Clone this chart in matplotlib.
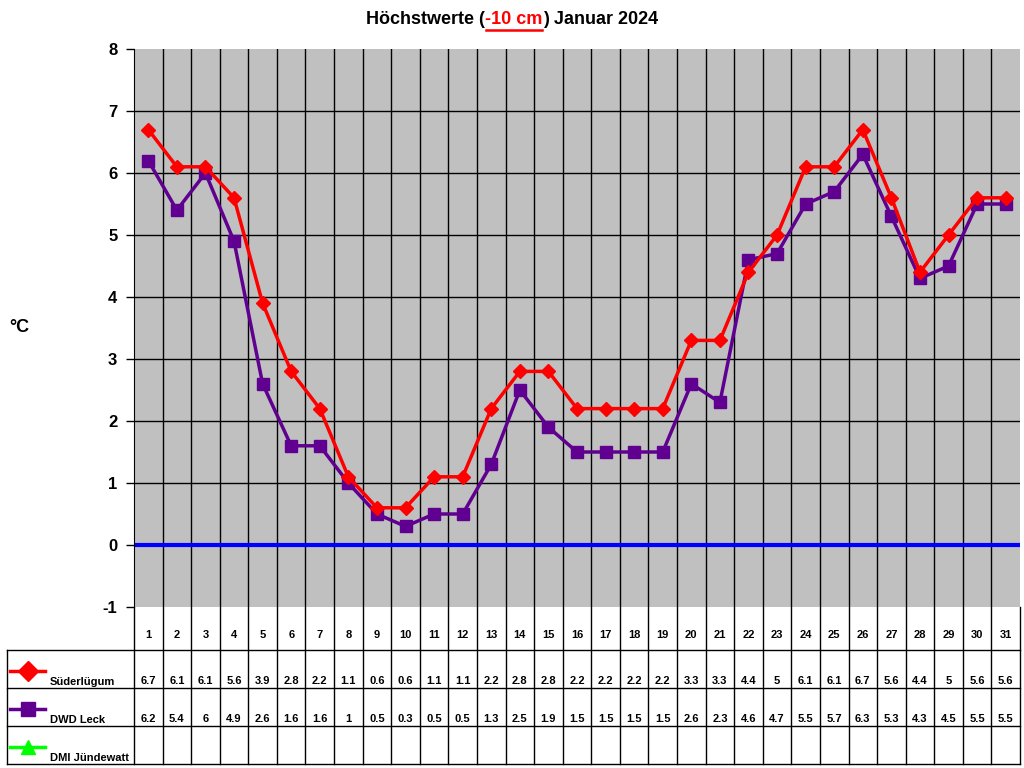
import numpy as np
import matplotlib.pyplot as plt

plt.rcParams['font.family'] = ['Liberation Sans', 'DejaVu Sans']
plt.rcParams['font.weight'] = 'bold'
plt.rcParams['axes.unicode_minus'] = False

days = list(range(1, 32))
suederluegum = [6.7, 6.1, 6.1, 5.6, 3.9, 2.8, 2.2, 1.1, 0.6, 0.6, 1.1, 1.1, 2.2, 2.8, 2.8, 2.2,
                2.2, 2.2, 2.2, 3.3, 3.3, 4.4, 5, 6.1, 6.1, 6.7, 5.6, 4.4, 5, 5.6, 5.6]
dwd_leck = [6.2, 5.4, 6, 4.9, 2.6, 1.6, 1.6, 1, 0.5, 0.3, 0.5, 0.5, 1.3, 2.5, 1.9, 1.5,
            1.5, 1.5, 1.5, 2.6, 2.3, 4.6, 4.7, 5.5, 5.7, 6.3, 5.3, 4.3, 4.5, 5.5, 5.5]
dmi = []  # keine Werte
series_names = ['Süderlügum', 'DWD Leck', 'DMI Jündewatt']
series_colors = ['#ff0000', '#600090', '#00ff00']
series_markers = ['D', 's', '^']

W, H = 1024, 768
fig = plt.figure(figsize=(W / 100, H / 100), dpi=100)
fig.patch.set_facecolor('white')

# plot area in pixels
x0, x1, ytop, ybot = 134, 1020, 49, 607
ax = fig.add_axes([x0 / W, 1 - ybot / H, (x1 - x0) / W, (ybot - ytop) / H])
ax.set_facecolor('#c0c0c0')
ax.set_xlim(0.5, 31.5)
ax.set_ylim(-1, 8)
ax.set_yticks(range(-1, 9))
ax.set_xticks([])
for y in range(0, 8):
    ax.axhline(y, color='black', lw=1, zorder=1)
for d in np.arange(1.5, 31.5, 1):
    ax.axvline(d, color='black', lw=1, zorder=1)
ax.axhline(0, color='#0000ff', lw=3, zorder=2)
ax.tick_params(axis='y', direction='out', length=6, width=1, labelsize=12, pad=6)
for s in ['top', 'right', 'bottom']:
    ax.spines[s].set_visible(False)
ax.spines['left'].set_color('black')

ax.plot(days, suederluegum, color=series_colors[0], lw=2.5, marker='D', ms=7, zorder=4)
ax.plot(days, dwd_leck, color=series_colors[1], lw=2.5, marker='s', ms=9, zorder=3)

fig.text(9 / W, 1 - 328 / H, '°C', fontsize=13, fontweight='bold', va='center', ha='left')

# title in three parts
renderer = fig.canvas.get_renderer()
parts = [('Höchstwerte (', 'black'), ('-10 cm', 'red'), (') Januar 2024', 'black')]
texts = [fig.text(0, 1 - 20 / H, p, fontsize=13, fontweight='bold', color=c, va='center')
         for p, c in parts]
widths = [t.get_window_extent(renderer).width for t in texts]
xs = 512 - sum(widths) / 2
for t, w in zip(texts, widths):
    t.set_x(xs / W)
    if t.get_text() == '-10 cm':
        fig.add_artist(plt.Line2D([(xs + 1) / W, (xs + w - 1) / W], [1 - 30 / H, 1 - 30 / H],
                                  color='red', lw=1.8))
    xs += w

# data table below the chart
tab = fig.add_axes([0, 0, 1, 1], zorder=-1)
tab.set_xlim(0, W)
tab.set_ylim(H, 0)
tab.axis('off')
colw = (x1 - x0) / 31
rows = [607, 650, 688, 726, 764]
for i in range(32):
    xv = x0 + i * colw
    tab.plot([xv, xv], [rows[0], rows[-1]], color='black', lw=1)
for yv in rows[1:]:
    tab.plot([7, x1], [yv, yv], color='black', lw=1)
tab.plot([7, 7], [rows[1], rows[-1]], color='black', lw=1)

for i, d in enumerate(days):
    tab.text(x0 + (i + 0.5) * colw, 635, str(d), fontsize=8, fontweight='bold',
             ha='center', va='center')
for r, vals in enumerate([suederluegum, dwd_leck, dmi]):
    ybase = rows[r + 1] + 31
    for i, v in enumerate(vals):
        tab.text(x0 + (i + 0.5) * colw, ybase, f'{v:g}', fontsize=8, fontweight='bold',
                 ha='center', va='center')
    tab.plot([10, 45], [ybase - 10, ybase - 10], color=series_colors[r], lw=2.5)
    tab.plot([27.5], [ybase - 10], color=series_colors[r], marker=series_markers[r], ms=10)
    tab.text(50, ybase + 1, series_names[r], fontsize=8, fontweight='bold',
             ha='left', va='center')

fig.savefig('out.png', dpi=100)
